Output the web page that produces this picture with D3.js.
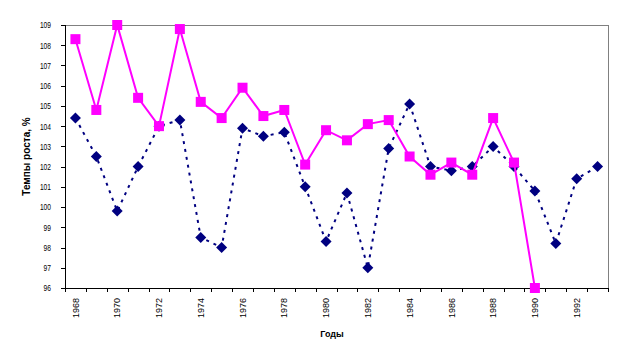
<!DOCTYPE html>
<html><head><meta charset="utf-8">
<script src="https://cdn.jsdelivr.net/npm/d3@7"></script>
<style>body{margin:0;background:#fff}svg{display:block}text{font-family:Arial,"Liberation Sans",sans-serif}</style>
</head><body>
<script>
const years = d3.range(1968, 1994);
const seriesBlue = [104.4,102.5,99.8,102.0,104.0,104.3,98.5,98.0,103.9,103.5,103.7,101.0,98.3,100.7,97.0,102.9,105.1,102.0,101.8,102.0,103.0,102.0,100.8,98.2,101.4,102.0];
const seriesPink = [108.3,104.8,109.0,105.4,104.0,108.8,105.2,104.4,105.9,104.5,104.8,102.1,103.8,103.3,104.1,104.3,102.5,101.6,102.2,101.6,104.4,102.2,96.0,null,null,null];
const yTicks = d3.range(96, 110);
const xLabels = years.filter((y,i)=>i%2===0);
const yTitle = "Темпы роста, %";
const xTitle = "Годы";

const W=624,H=360, L=65, R=608, T=25, B=288;
const svg=d3.select("body").append("svg").attr("width",W).attr("height",H);
const xi=d3.scaleLinear().domain([0,years.length]).range([L,R]);
const y=d3.scaleLinear().domain([96,109]).range([B,T]);
const cx=i=>xi(i+0.5);

svg.append("path").attr("d",`M${L},${T}H${R}V${B}`).attr("fill","none").attr("stroke","#808080").attr("stroke-width",1).attr("shape-rendering","crispEdges");

const ya=svg.append("g").attr("transform",`translate(${L},0)`)
  .call(d3.axisLeft(y).tickValues(yTicks).tickSize(4).tickPadding(10).tickFormat(d3.format("d")));
ya.select(".domain").attr("stroke","#000").attr("shape-rendering","crispEdges");
ya.selectAll(".tick line").attr("stroke","#000").attr("shape-rendering","crispEdges");
ya.selectAll(".tick text").attr("font-size",9).attr("fill","#000").attr("font-family","Arial")
  .attr("textLength",d=>String(d).length*3.7).attr("lengthAdjust","spacingAndGlyphs");

const xa=svg.append("g").attr("transform",`translate(0,${B})`)
  .call(d3.axisBottom(xi).tickValues(d3.range(years.length+1)).tickSize(4).tickFormat(""));
xa.select(".domain").attr("stroke","#000").attr("shape-rendering","crispEdges");
xa.selectAll(".tick line").attr("stroke","#000").attr("shape-rendering","crispEdges");
svg.append("g").selectAll("text").data(xLabels).join("text")
  .attr("transform",d=>`translate(${cx(years.indexOf(d))},${B+10}) rotate(-90)`)
  .attr("text-anchor","end").attr("dy","0.35em").attr("font-size",9).attr("fill","#000")
  .text(d=>d);

svg.append("text").attr("transform",`translate(30,${(T+B)/2}) rotate(-90)`)
  .attr("text-anchor","middle").attr("font-size",10).attr("font-weight","bold").text(yTitle);
svg.append("text").attr("x",332).attr("y",337).attr("text-anchor","middle")
  .attr("font-size",9).attr("font-weight","bold").text(xTitle);

const line=d3.line().defined(d=>d.v!=null).x(d=>cx(d.i)).y(d=>y(d.v)).curve(d3.curveLinear);
const blue=seriesBlue.map((v,i)=>({i,v})), pink=seriesPink.map((v,i)=>({i,v}));

svg.append("path").datum(blue).attr("d",line).attr("fill","none").attr("stroke","#000080")
  .attr("stroke-width",2).attr("stroke-dasharray","3,5");
svg.append("g").selectAll("path").data(blue).join("path")
  .attr("d",d=>{const x=cx(d.i),yy=y(d.v),r=5.5;return `M${x},${yy-r}L${x+r},${yy}L${x},${yy+r}L${x-r},${yy}Z`;})
  .attr("fill","#000080");

svg.append("path").datum(pink).attr("d",line).attr("fill","none").attr("stroke","#FF00FF").attr("stroke-width",2);
svg.append("g").selectAll("rect").data(pink.filter(d=>d.v!=null)).join("rect")
  .attr("x",d=>cx(d.i)-5).attr("y",d=>y(d.v)-5).attr("width",10).attr("height",10).attr("fill","#FF00FF");
</script>
</body></html>
